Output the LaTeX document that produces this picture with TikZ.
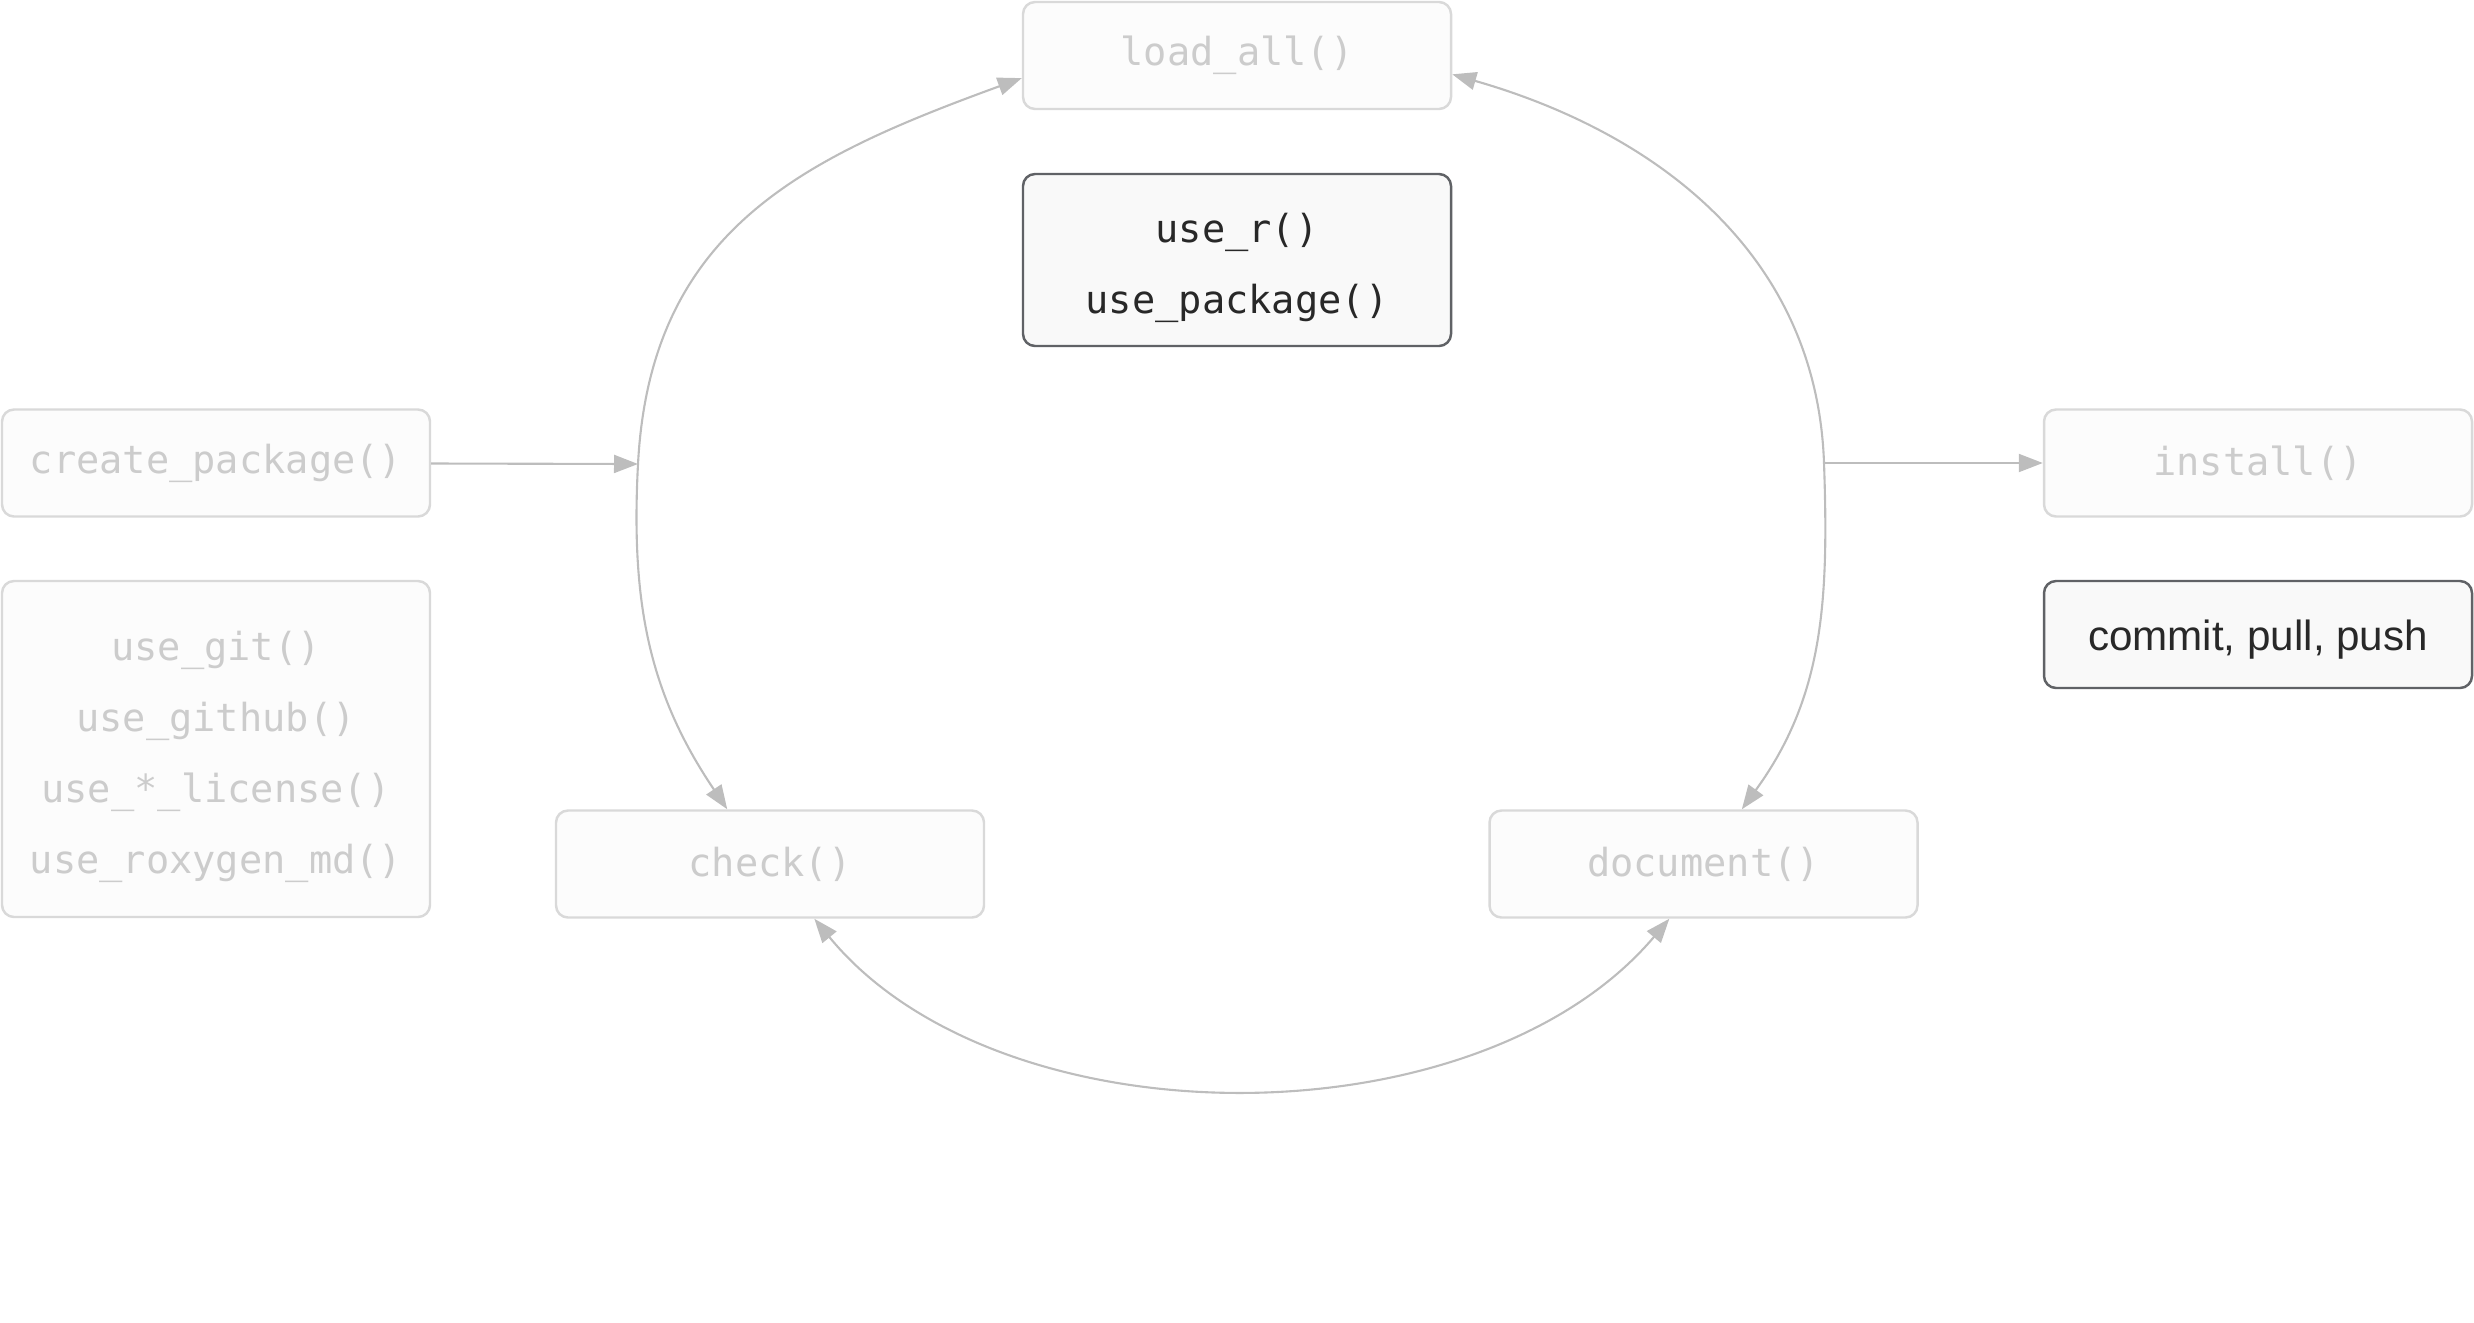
\documentclass[tikz,border=0pt]{standalone}
\usepackage{fontspec}
\setmonofont{DejaVu Sans Mono}
\setsansfont{Liberation Sans}
\usetikzlibrary{arrows.meta}

\definecolor{paleline}{HTML}{D9D9D9}
\definecolor{palefill}{HTML}{FCFCFC}
\definecolor{paletext}{HTML}{CCCCCC}
\definecolor{darkline}{HTML}{606266}
\definecolor{darkfill}{HTML}{F9F9F9}
\definecolor{darktext}{HTML}{282828}
\definecolor{linkgray}{HTML}{BDBDBD}

\begin{document}
\begin{tikzpicture}[line join=round]
        \tikzstyle{pale}=[draw=paleline, fill=palefill, text=paletext, line width=0.7pt, rounded corners=0.12cm, minimum width=4.28cm, minimum height=1.07cm, align=center, font=\ttfamily\fontsize{11}{20.2}\selectfont];
        \tikzstyle{dark}=[pale, draw=darkline, fill=darkfill, text=darktext];
        \tikzstyle{link}=[draw=linkgray, line width=0.6pt, -{Triangle[length=0.24cm, width=0.18cm]}];
        \tikzstyle{twoway}=[link, {Triangle[length=0.24cm, width=0.18cm]}-{Triangle[length=0.24cm, width=0.18cm]}];

        \useasboundingbox (0,0) rectangle (24.74,-13.22);

        % one-line pale boxes
        \foreach \nom/\x/\y/\txt in {load/12.37/-0.555/load\_all(), create/2.16/-4.63/create\_package(), install/22.58/-4.63/install(), check/7.70/-8.64/check(), document/17.035/-8.64/document()}{
          \node[pale] (\nom) at (\x,\y) {\txt};
        }
        \node[dark, minimum height=1.72cm] (user) at (12.37,-2.60) {\rule{0pt}{12.9pt}use\_r()\\use\_package()};
        \node[pale, minimum height=3.36cm] (setup) at (2.16,-7.49) {\rule{0pt}{12.9pt}use\_git()\\use\_github()\\use\_*\_license()\\use\_roxygen\_md()};
        \node[dark, font=\sffamily\fontsize{12}{14}\selectfont, text height=10pt, text depth=1pt] (git) at (22.58,-6.345) {commit, pull, push};

        % the cycle
        \coordinate (cin) at (6.38,-4.64);
        \coordinate (iout) at (18.24,-4.63);
        \draw[link] (create) -- (cin);
        \draw[link] (iout) -- (install);
        \draw[twoway] (check.128) to[out=124, in=-93] (cin) to[out=87, in=200, looseness=1.1] (load.186);
        \draw[twoway] (load.355) to[out=-16, in=92] (iout) to[out=-88, in=54] (document.55);
        \draw[twoway] (check.309) .. controls (10.00,-11.45) and (14.78,-11.45) .. (document.238);
    \end{tikzpicture}
\end{document}
